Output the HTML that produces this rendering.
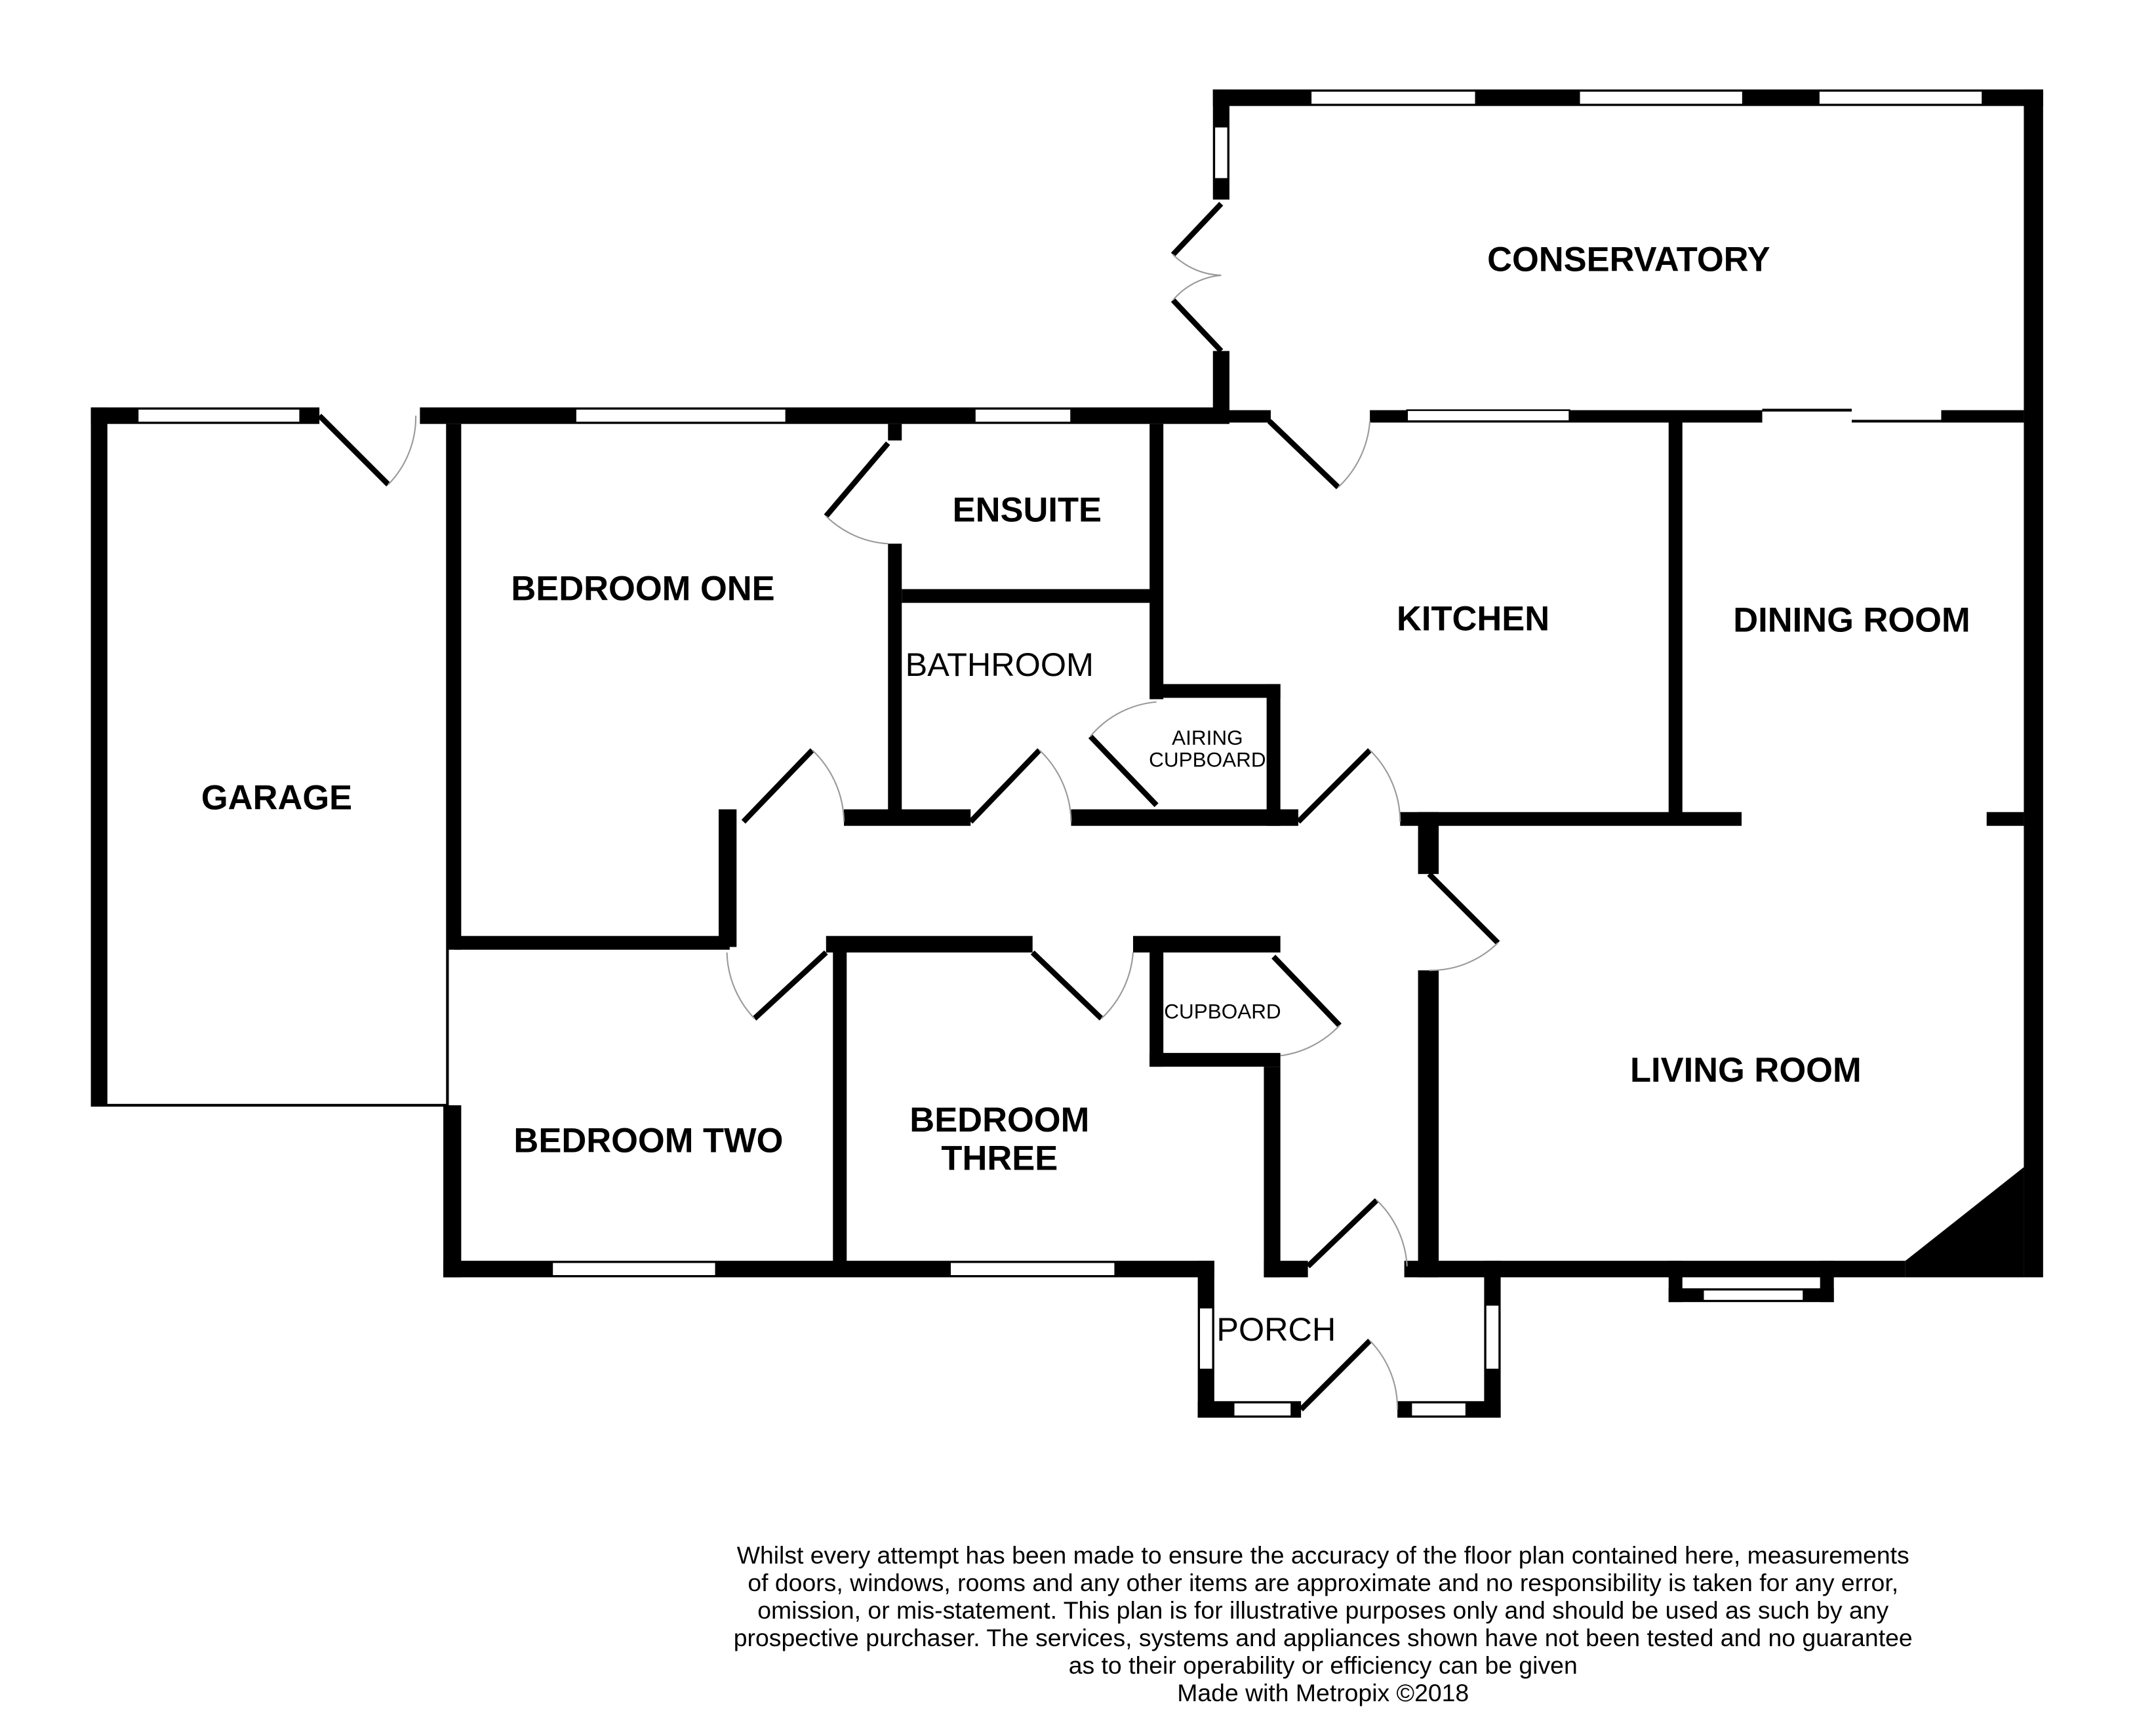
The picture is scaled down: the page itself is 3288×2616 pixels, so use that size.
<!DOCTYPE html>
<html><head><meta charset="utf-8"><style>html,body{margin:0;padding:0;background:#fff}svg{display:block}</style></head>
<body>
<svg width="3288" height="2616" viewBox="0 0 1566 1246" preserveAspectRatio="none" xmlns="http://www.w3.org/2000/svg" font-family="Liberation Sans, sans-serif">
<rect width="1566" height="1246" fill="#fff"/>
<g fill="#000">
<rect x="66" y="296" width="12" height="508"/>
<rect x="66" y="296" width="166" height="12"/>
<rect x="305" y="296" width="588" height="12"/>
<rect x="72" y="802" width="253" height="2"/>
<rect x="324" y="308" width="2" height="495"/>
<rect x="325" y="308" width="10" height="382"/>
<rect x="322" y="803" width="13" height="125"/>
<rect x="322" y="916" width="560" height="12"/>
<rect x="881" y="65" width="12" height="80"/>
<rect x="881" y="255" width="12" height="50"/>
<rect x="881" y="65" width="603" height="12"/>
<rect x="1470" y="65" width="14" height="863"/>
<rect x="893" y="298" width="30" height="9"/>
<rect x="995" y="298" width="285" height="9"/>
<rect x="1410" y="298" width="60" height="9"/>
<rect x="1212" y="306" width="10" height="291"/>
<rect x="1017" y="590" width="248" height="10"/>
<rect x="1443" y="590" width="27" height="10"/>
<rect x="645" y="308" width="10" height="12"/>
<rect x="645" y="395" width="10" height="200"/>
<rect x="655" y="428" width="185" height="10"/>
<rect x="835" y="308" width="10" height="200"/>
<rect x="840" y="497" width="90" height="10"/>
<rect x="920" y="497" width="10" height="103"/>
<rect x="613" y="588" width="92" height="12"/>
<rect x="778" y="588" width="165" height="12"/>
<rect x="522" y="588" width="13" height="100"/>
<rect x="330" y="680" width="200" height="10"/>
<rect x="600" y="680" width="150" height="12"/>
<rect x="823" y="680" width="107" height="12"/>
<rect x="605" y="690" width="10" height="228"/>
<rect x="835" y="690" width="10" height="85"/>
<rect x="835" y="765" width="95" height="10"/>
<rect x="918" y="775" width="12" height="153"/>
<rect x="918" y="916" width="32" height="12"/>
<rect x="1030" y="590" width="15" height="45"/>
<rect x="1030" y="705" width="15" height="223"/>
<rect x="1020" y="916" width="364" height="12"/>
<rect x="1212" y="916" width="10" height="30"/>
<rect x="1322" y="916" width="10" height="30"/>
<rect x="1212" y="936" width="120" height="10"/>
<polygon points="1384,916 1470,848 1470,928 1384,928"/>
<rect x="870" y="916" width="12" height="114"/>
<rect x="870" y="1018" width="75" height="12"/>
<rect x="1015" y="1018" width="75" height="12"/>
<rect x="1078" y="916" width="12" height="114"/>
</g>
<g fill="#fff" stroke="#000" stroke-width="1.2">
<rect x="100" y="297" width="118" height="10"/>
<rect x="418" y="297" width="153" height="10"/>
<rect x="708" y="297" width="70" height="10"/>
<rect x="401" y="917" width="119" height="10"/>
<rect x="690" y="917" width="120" height="10"/>
<rect x="882" y="92" width="10" height="38"/>
<rect x="952" y="66" width="120" height="10"/>
<rect x="1147" y="66" width="119" height="10"/>
<rect x="1321" y="66" width="119" height="10"/>
<rect x="1022" y="298" width="118" height="8"/>
<rect x="1237" y="937" width="73" height="8"/>
<rect x="871" y="950" width="10" height="45"/>
<rect x="896" y="1019" width="42" height="10"/>
<rect x="1025" y="1019" width="40" height="10"/>
<rect x="1079" y="948" width="10" height="47"/>
</g>
<g stroke="#000" stroke-width="2"><line x1="1280" y1="298" x2="1345" y2="298"/><line x1="1345" y1="306" x2="1410" y2="306"/></g>
<g stroke="#000" stroke-width="4" fill="none">
<line x1="232" y1="302" x2="282" y2="352"/>
<line x1="645" y1="322" x2="600" y2="375"/>
<line x1="540" y1="597" x2="590" y2="545"/>
<line x1="705" y1="597" x2="755" y2="545"/>
<line x1="840" y1="585" x2="792" y2="535"/>
<line x1="943" y1="597" x2="995" y2="545"/>
<line x1="922" y1="306" x2="972" y2="354"/>
<line x1="1038" y1="635" x2="1088" y2="685"/>
<line x1="600" y1="692" x2="548" y2="740"/>
<line x1="750" y1="692" x2="800" y2="740"/>
<line x1="925" y1="695" x2="973" y2="745"/>
<line x1="950" y1="920" x2="1000" y2="872"/>
<line x1="945" y1="1024" x2="995" y2="974"/>
<line x1="887" y1="148" x2="852" y2="185"/>
<line x1="887" y1="255" x2="852" y2="218"/>
</g>
<g stroke="#999" stroke-width="1" fill="none">
<path d="M282,352 A70,70 0 0 0 302,302"/>
<path d="M600,375 A70,70 0 0 0 645,395"/>
<path d="M590,545 A73,73 0 0 1 613,597"/>
<path d="M755,545 A73,73 0 0 1 778,597"/>
<path d="M792,535 A70,70 0 0 1 840,510"/>
<path d="M995,545 A73,73 0 0 1 1017,597"/>
<path d="M972,354 A73,73 0 0 0 995,306"/>
<path d="M1088,685 A70,70 0 0 1 1038,705"/>
<path d="M548,740 A72,72 0 0 1 528,692"/>
<path d="M800,740 A73,73 0 0 0 823,692"/>
<path d="M973,745 A72,72 0 0 1 930,767"/>
<path d="M1000,872 A72,72 0 0 1 1022,920"/>
<path d="M995,974 A70,70 0 0 1 1015,1024"/>
<path d="M852,185 A52,52 0 0 0 887,200"/>
<path d="M852,218 A52,52 0 0 1 887,200"/>
</g>
<g font-weight="bold" font-size="25" text-anchor="middle" fill="#000">
<text x="1183" y="197">CONSERVATORY</text>
<text x="746" y="379">ENSUITE</text>
<text x="467" y="436">BEDROOM ONE</text>
<text x="1070" y="458">KITCHEN</text>
<text x="1345" y="459">DINING ROOM</text>
<text x="201" y="588">GARAGE</text>
<text x="1268" y="786">LIVING ROOM</text>
<text x="471" y="837">BEDROOM TWO</text>
<text x="726" y="822">BEDROOM</text>
<text x="726" y="850">THREE</text>
</g>
<g font-size="24" text-anchor="middle" fill="#000">
<text x="726" y="491">BATHROOM</text>
<text x="927" y="974">PORCH</text>
</g>
<g font-size="15" text-anchor="middle" fill="#000">
<text x="877" y="541">AIRING</text>
<text x="877" y="557">CUPBOARD</text>
<text x="888" y="740">CUPBOARD</text>
</g>
<g font-size="17.8" text-anchor="middle" fill="#000">
<text x="961" y="1136">Whilst every attempt has been made to ensure the accuracy of the floor plan contained here, measurements</text>
<text x="961" y="1156">of doors, windows, rooms and any other items are approximate and no responsibility is taken for any error,</text>
<text x="961" y="1176">omission, or mis-statement. This plan is for illustrative purposes only and should be used as such by any</text>
<text x="961" y="1196">prospective purchaser. The services, systems and appliances shown have not been tested and no guarantee</text>
<text x="961" y="1216">as to their operability or efficiency can be given</text>
<text x="961" y="1236">Made with Metropix ©2018</text>
</g>
</svg>
</body></html>
